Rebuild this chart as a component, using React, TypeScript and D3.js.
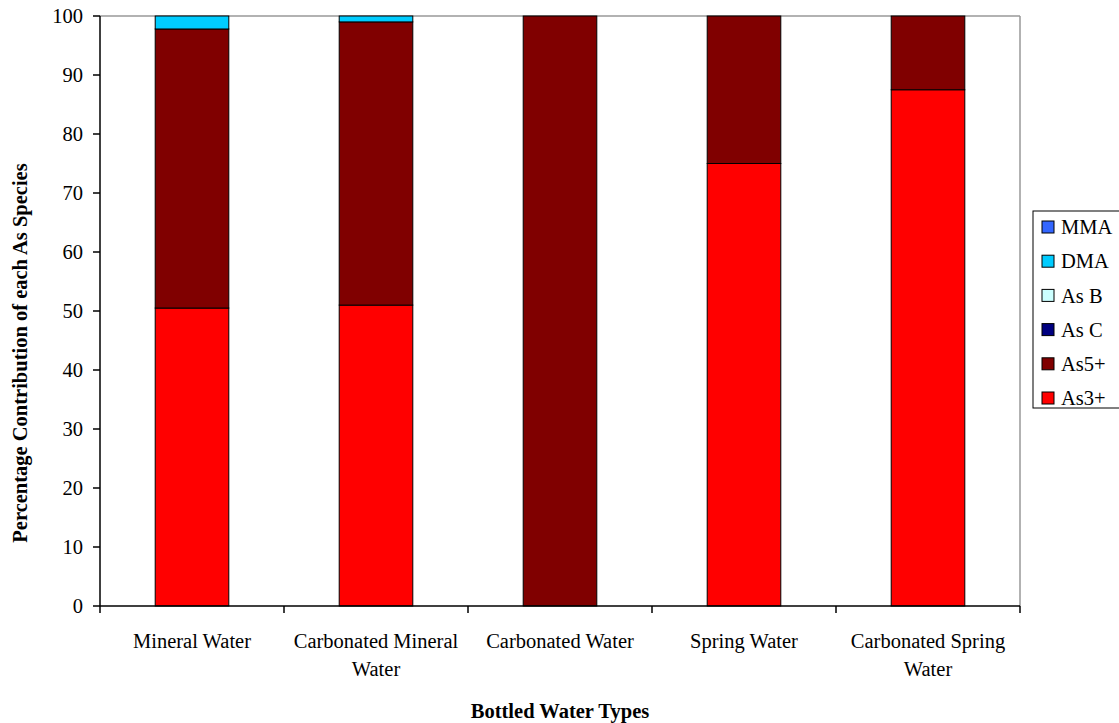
import React from "react";
import * as d3 from "d3";

const categories = [
  ["Mineral Water"],
  ["Carbonated Mineral", "Water"],
  ["Carbonated Water"],
  ["Spring Water"],
  ["Carbonated Spring", "Water"],
];
const seriesNames = ["As3+", "As5+", "As C", "As B", "DMA", "MMA"];
const seriesColors = ["#FF0000", "#800000", "#000080", "#CCFFFF", "#00CCFF", "#3366FF"];
const as3 = [50.5, 51.0, 0, 75.0, 87.5];
const as5 = [47.3, 48.0, 100, 25.0, 12.5];
const asC = [0, 0, 0, 0, 0];
const asB = [0, 0, 0, 0, 0];
const dma = [2.2, 1.0, 0, 0, 0];
const mma = [0, 0, 0, 0, 0];
const yTicks = [0, 10, 20, 30, 40, 50, 60, 70, 80, 90, 100];

export default function App() {
  const W = 1119, H = 723;
  const left = 100, right = 1020, top = 16, bottom = 606;
  const x = d3.scaleBand().domain(categories.map((_, i) => String(i))).range([left, right]).paddingInner(0.6).paddingOuter(0.3);
  const xc = d3.scaleBand().domain(categories.map((_, i) => String(i))).range([left, right]);
  const y = d3.scaleLinear().domain([0, 100]).range([bottom, top]);
  const series = [as3, as5, asC, asB, dma, mma];
  const stackData = categories.map((_, i) => {
    const o: any = { i };
    seriesNames.forEach((n, k) => (o[n] = series[k][i]));
    return o;
  });
  const stacked = d3.stack().keys(seriesNames)(stackData as any);
  const font = "'Liberation Serif', 'Times New Roman', serif";
  const fs = 20.5;
  const legendOrder = [...seriesNames].reverse();
  return (
    <svg width={W} height={H} style={{ position: "absolute", left: 0, top: 0 }} fontFamily={font}>
      <rect x={0} y={0} width={W} height={H} fill="#fff" />
      <line x1={left} y1={top} x2={right} y2={top} stroke="#999" strokeWidth={1.5} />
      <line x1={right} y1={top} x2={right} y2={bottom} stroke="#999" strokeWidth={1.5} />
      {stacked.map((s, k) =>
        s.map((d, i) =>
          d[1] - d[0] > 0 ? (
            <rect
              key={k + "-" + i}
              x={x(String(i))}
              y={y(d[1])}
              width={x.bandwidth()}
              height={y(d[0]) - y(d[1])}
              fill={seriesColors[k]}
              stroke="#000"
              strokeWidth={1}
            />
          ) : null
        )
      )}
      <line x1={left} y1={top} x2={left} y2={bottom} stroke="#000" strokeWidth={1.5} />
      <line x1={left} y1={bottom} x2={right} y2={bottom} stroke="#000" strokeWidth={1.5} />
      {yTicks.map((t) => (
        <g key={t}>
          <line x1={left - 7} x2={left} y1={y(t)} y2={y(t)} stroke="#000" strokeWidth={1.5} />
          <text x={left - 17} y={y(t)} dy="0.35em" textAnchor="end" fontSize={fs}>{t}</text>
        </g>
      ))}
      {categories.map((_, i) => (
        <line key={i} x1={xc(String(i))!} x2={xc(String(i))!} y1={bottom} y2={bottom + 7} stroke="#000" strokeWidth={1.5} />
      ))}
      <line x1={right} x2={right} y1={bottom} y2={bottom + 7} stroke="#000" strokeWidth={1.5} />
      {categories.map((lines, i) => (
        <text key={i} x={xc(String(i))! + xc.bandwidth() / 2} y={648} textAnchor="middle" fontSize={fs}>
          {lines.map((l, j) => (
            <tspan key={j} x={xc(String(i))! + xc.bandwidth() / 2} dy={j === 0 ? 0 : 28}>{l}</tspan>
          ))}
        </text>
      ))}
      <text x={(left + right) / 2} y={718} textAnchor="middle" fontSize={fs} fontWeight="bold">Bottled Water Types</text>
      <text transform={`translate(27, ${(top + bottom) / 2 + 42}) rotate(-90)`} textAnchor="middle" fontSize={fs} fontWeight="bold">
        Percentage Contribution of each As Species
      </text>
      <rect x={1033} y={211} width={90} height={197} fill="#fff" stroke="#000" strokeWidth={1} />
      {legendOrder.map((n, j) => {
        const k = seriesNames.indexOf(n);
        const cy = 227 + j * 34.2;
        return (
          <g key={n}>
            <rect x={1042} y={cy - 6} width={12} height={12} fill={seriesColors[k]} stroke="#000" strokeWidth={1} />
            <text x={1061} y={cy} dy="0.35em" fontSize={fs}>{n}</text>
          </g>
        );
      })}
    </svg>
  );
}
